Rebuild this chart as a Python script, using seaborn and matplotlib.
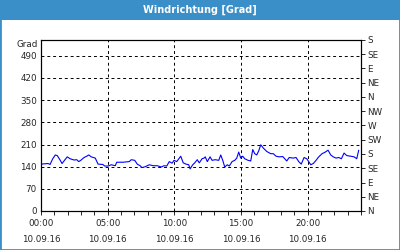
import matplotlib
matplotlib.use("Agg")
import matplotlib.pyplot as plt
import seaborn as sns
import pandas as pd
from matplotlib.patches import Rectangle

hours = [0, 0.53, 0.68, 0.88, 1.07, 1.22, 1.43, 1.58, 1.78, 1.97, 2.18, 2.48, 2.68, 2.83, 2.98,
         3.23, 3.43, 3.58, 3.77, 4.07, 4.28, 4.63, 4.78, 5.03, 5.27, 5.57, 5.68, 6.15,
         6.62, 6.77, 7.03, 7.22, 7.43, 7.58, 7.82, 8.12, 8.42, 8.72, 9.02, 9.23, 9.43, 9.62,
         9.83, 9.98, 10.18, 10.48, 10.67, 10.88, 11.08, 11.18, 11.38, 11.53, 11.72, 11.87,
         12.08, 12.23, 12.32, 12.47, 12.68, 12.83, 13.07, 13.33, 13.48, 13.63, 13.78, 13.97,
         14.12, 14.33, 14.53, 14.68, 14.83, 14.98, 15.13, 15.28, 15.53, 15.73, 15.88, 16.03,
         16.18, 16.33, 16.48, 16.67, 16.93, 17.23, 17.42, 17.63, 17.87, 18.13, 18.43, 18.62,
         18.92, 19.13, 19.33, 19.52, 19.73, 19.93, 20.08, 20.23, 20.42, 20.63, 20.83, 21.08,
         21.32, 21.53, 21.73, 21.92, 22.13, 22.33, 22.53, 22.73, 22.93, 23.23, 23.48, 23.68,
         23.83]
grad = [148, 150, 147, 165, 177, 175, 161, 150, 161, 171, 165, 161, 162, 156, 160,
        169, 173, 177, 171, 167, 148, 147, 142, 142, 146, 143, 154, 154,
        156, 162, 160, 148, 143, 137, 140, 146, 143, 143, 139, 143, 142, 156,
        151, 160, 156, 173, 152, 148, 146, 133, 146, 152, 162, 152,
        165, 167, 171, 156, 171, 160, 162, 160, 177, 160, 139, 146,
        142, 156, 160, 167, 186, 167, 173, 165, 160, 158, 194, 181,
        177, 190, 209, 199, 188, 181, 181, 173, 171, 172, 158, 169,
        167, 169, 156, 148, 169, 165, 156, 146, 150, 160, 171, 181,
        186, 192, 177, 171, 167, 169, 165, 183, 175, 173, 171, 165,
        192]

xtick_pos = [0, 5, 10, 15, 20]
xtick_labels = ["00:00\n10.09.16", "05:00\n10.09.16", "10:00\n10.09.16",
                "15:00\n10.09.16", "20:00\n10.09.16"]
ytick_pos = [0, 70, 140, 210, 280, 350, 420, 490]
dir_pos = [0, 45, 90, 135, 180, 225, 270, 315, 360, 405, 450, 495, 540]
dir_labels = ["N", "NE", "E", "SE", "S", "SW", "W", "NW", "N", "NE", "E", "SE", "S"]

sns.set_style("white")
plt.rcParams['font.family'] = ['DejaVu Sans']

fig = plt.figure(figsize=(4, 2.5), dpi=100)
fig.patch.set_facecolor("white")

blue = "#3b8fc8"
# title bar and frame
fig.patches.append(Rectangle((0, 1 - 20/250), 1, 20/250, transform=fig.transFigure,
                             facecolor=blue, edgecolor="none", zorder=0))
fig.patches.append(Rectangle((0, 0), 1, 1, transform=fig.transFigure,
                             facecolor="none", edgecolor=blue, linewidth=2.0, zorder=0))
fig.text(0.5, 1 - 10/250, "Windrichtung [Grad]", color="white", fontsize=7,
         fontweight="bold", ha="center", va="center")

ax = fig.add_axes([41/400, 1 - 211/250, 320/400, 171/250])
df = pd.DataFrame({"h": hours, "v": grad})
sns.lineplot(data=df, x="h", y="v", ax=ax, color="#0000ff", linewidth=0.8)

ax.set_xlim(0, 24)
ax.set_ylim(0, 540)
ax.set_xlabel("")
ax.set_ylabel("")
ax.set_xticks(xtick_pos)
ax.set_xticklabels(xtick_labels, fontsize=6.3, linespacing=1.9)
ax.set_xticks(range(0, 25), minor=True)
ax.set_yticks(ytick_pos)
ax.set_yticklabels([str(v) for v in ytick_pos], fontsize=6.3)
ax.tick_params(axis="x", which="major", length=3, width=0.7, pad=3, direction="out", bottom=True)
ax.tick_params(axis="x", which="minor", length=3, width=0.7, direction="out", bottom=True)
ax.tick_params(axis="y", which="major", length=0, pad=3)

for v in ytick_pos[1:]:
    ax.axhline(v, color="black", linewidth=0.7, linestyle=(0, (3, 3)), zorder=1)
for h in xtick_pos[1:]:
    ax.axvline(h, color="black", linewidth=0.7, linestyle=(0, (3, 3)), zorder=1)

for s in ax.spines.values():
    s.set_color("black")
    s.set_linewidth(0.8)

ax2 = ax.twinx()
ax2.set_ylim(0, 540)
ax2.set_yticks(dir_pos)
ax2.set_yticklabels(dir_labels, fontsize=6.3)
ax2.tick_params(axis="y", length=3, width=0.7, pad=1.5, direction="out", right=True)
for s in ax2.spines.values():
    s.set_color("black")
    s.set_linewidth(0.8)

fig.text(38/400, 1 - 45/250, "Grad", fontsize=6.3, ha="right", va="center")

fig.savefig("out.png", dpi=100, facecolor="white")
